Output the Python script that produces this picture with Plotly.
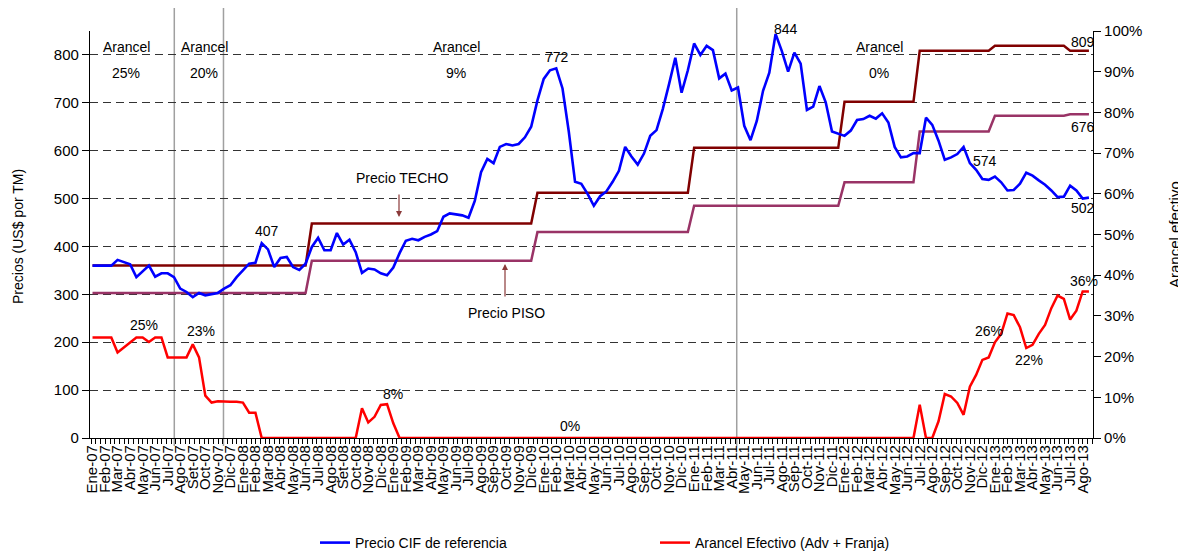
import plotly.graph_objects as go

# ---------------- data (half-month periods, Ene-07 .. Ago-13) ----------------
precio_cif = [
    360, 360, 360, 360, 372, 368, 363, 336, 349, 360,
    337, 344, 344, 336, 312, 305, 294, 303, 298, 301,
    303, 312, 319, 336, 349, 364, 366, 407, 394, 357,
    376, 378, 357, 351, 364, 399, 418, 392, 392, 428,
    404, 414, 388, 345, 354, 352, 344, 340, 356, 386,
    412, 416, 413, 420, 425, 432, 462, 469, 467, 465,
    460, 495, 555, 583, 574, 608, 614, 611, 614, 628,
    650, 705, 750, 768, 772, 730, 640, 535, 531, 510,
    485, 505, 515, 535, 558, 608, 588, 571, 594, 631,
    643, 687, 739, 794, 721, 768, 824, 800, 819, 810,
    751, 761, 726, 732, 652, 622, 662, 725, 763, 844,
    808, 765, 805, 782, 685, 692, 735, 701, 640, 636,
    631, 642, 664, 666, 673, 667, 678, 659, 608, 586,
    588, 595, 595, 669, 654, 621, 581, 586, 593, 608,
    574, 560, 541, 539, 546, 534, 517, 518, 531, 554,
    548, 538, 529, 517, 503, 504, 527, 517, 500, 502,
]

arancel_efectivo = [
    24.7, 24.7, 24.7, 24.7, 21.0, 22.2, 23.5, 24.7, 24.7, 23.6,
    24.7, 24.7, 19.8, 19.8, 19.8, 19.8, 23.0, 19.8, 10.4, 8.7,
    9.0, 8.9, 8.9, 8.9, 8.7, 6.2, 6.2, 0, 0, 0,
    0, 0, 0, 0, 0, 0, 0, 0, 0, 0,
    0, 0, 0, 7.3, 3.8, 5.2, 8.1, 8.3, 3.6, 0,
    0, 0, 0, 0, 0, 0, 0, 0, 0, 0,
    0, 0, 0, 0, 0, 0, 0, 0, 0, 0,
    0, 0, 0, 0, 0, 0, 0, 0, 0, 0,
    0, 0, 0, 0, 0, 0, 0, 0, 0, 0,
    0, 0, 0, 0, 0, 0, 0, 0, 0, 0,
    0, 0, 0, 0, 0, 0, 0, 0, 0, 0,
    0, 0, 0, 0, 0, 0, 0, 0, 0, 0,
    0, 0, 0, 0, 0, 0, 0, 0, 0, 0,
    0, 0, 8.2, 0, 0, 4.1, 10.8, 10.2, 8.6, 5.7,
    12.6, 15.5, 19.2, 19.8, 23.5, 25.6, 30.6, 30.2, 27.2, 22.1,
    22.9, 25.6, 27.8, 31.9, 35.0, 34.2, 29.1, 31.3, 36.0, 36.0,
]

banda_periodo = [0, 34, 35, 70, 71, 95, 96, 119, 120, 131, 132, 143, 144, 155, 156, 159]
precio_techo = [360, 360, 448, 448, 512, 512, 606, 606, 702, 702, 809, 809, 819, 819, 809, 809]
precio_piso = [303, 303, 370, 370, 430, 430, 485, 485, 534, 534, 640, 640, 673, 673, 676, 676]

meses = ["Ene", "Feb", "Mar", "Abr", "May", "Jun", "Jul", "Ago", "Sep", "Oct", "Nov", "Dic"]
anios = ["07", "08", "09", "10", "11", "12", "13"]
etiquetas = []
for a in anios:
    for m in meses:
        nombre = "Set" if (m == "Sep" and a in ("07", "08")) else m
        etiquetas.append(f"{nombre}-{a}")
etiquetas = etiquetas[:80]

ticks_izq = [0, 100, 200, 300, 400, 500, 600, 700, 800]
ticks_der = list(range(0, 101, 10))

periodos = list(range(len(precio_cif)))

# ---------------- layout helpers ----------------
# The page body has an 8px margin, so the figure is drawn at (8, 8) in the window.
OFF = 8
W, H = 1186 - OFF, 553 - OFF
AX_L, AX_R, AX_T, AX_B = 90, 1093, 31, 438          # plot area in window pixels
L, R, T, B = AX_L - OFF, W - (AX_R - OFF), AX_T - OFF, H - (AX_B - OFF)
PW, PH = AX_R - AX_L, AX_B - AX_T


def px(x):
    return (x - AX_L) / PW


def py(y):
    return (AX_B - y) / PH


FONT = "Liberation Sans, Arial, sans-serif"

fig = go.Figure()

fig.add_trace(go.Scatter(x=banda_periodo, y=precio_piso, mode="lines",
                         line=dict(color="#993366", width=2.5), showlegend=False,
                         hoverinfo="skip"))
fig.add_trace(go.Scatter(x=banda_periodo, y=precio_techo, mode="lines",
                         line=dict(color="#800000", width=2.5), showlegend=False,
                         hoverinfo="skip"))
fig.add_trace(go.Scatter(x=periodos, y=precio_cif, mode="lines",
                         name="Precio CIF de referencia",
                         line=dict(color="#0000FF", width=2.6)))
fig.add_trace(go.Scatter(x=periodos, y=arancel_efectivo, mode="lines",
                         name="Arancel Efectivo (Adv + Franja)", yaxis="y2",
                         line=dict(color="#FF0000", width=2.5)))

# vertical separators
for xv in [13.05, 20.9, 102.8]:
    fig.add_shape(type="line", xref="x", yref="paper", x0=xv, x1=xv,
                  y0=py(446), y1=py(7), line=dict(color="#A0A0A0", width=1.5),
                  layer="below")

ann = []


def text(x, y, s, size=14, color="black"):
    ann.append(dict(x=px(x), y=py(y), xref="paper", yref="paper", text=s,
                    showarrow=False, xanchor="center", yanchor="middle",
                    font=dict(size=size, color=color, family=FONT)))


for xc, pct in [(126, "25%"), (204, "20%"), (456, "9%"), (879, "0%")]:
    text(xc, 47, "Arancel")
    text(xc, 73, pct)

text(267, 231, "407")
text(557, 57, "772")
text(786, 29, "844")
text(1083, 42, "809")
text(1083, 127, "676")
text(985, 161, "574")
text(1083, 208, "502")
text(144, 325, "25%")
text(201, 331, "23%")
text(393, 394, "8%")
text(570, 426, "0%")
text(989, 331, "26%")
text(1029, 360, "22%")
text(1084, 281, "36%")
text(402, 178, "Precio TECHO")
text(506, 313, "Precio PISO")

# arrows (tail offsets in pixels)
ann.append(dict(x=px(399), y=py(217), xref="paper", yref="paper",
                ax=0, ay=-24, axref="pixel", ayref="pixel", text="", showarrow=True,
                arrowhead=2, arrowsize=1, arrowwidth=1.2, arrowcolor="#8B3A3A"))
ann.append(dict(x=px(505), y=py(264), xref="paper", yref="paper",
                ax=0, ay=34, axref="pixel", ayref="pixel", text="", showarrow=True,
                arrowhead=2, arrowsize=1, arrowwidth=1.2, arrowcolor="#8B3A3A"))

# axis titles
ann.append(dict(x=px(18), y=py(237), xref="paper", yref="paper", text="Precios (US$ por TM)",
                showarrow=False, textangle=-90, xanchor="center", yanchor="middle",
                font=dict(size=14, color="black", family=FONT)))
ann.append(dict(x=px(1175), y=py(235), xref="paper", yref="paper", text="Arancel efectivo",
                showarrow=False, textangle=-90, xanchor="center", yanchor="middle",
                font=dict(size=15, color="black", family=FONT)))

fig.update_layout(
    width=W, height=H,
    margin=dict(l=L, r=R, t=T, b=B, pad=0, autoexpand=False),
    paper_bgcolor="white", plot_bgcolor="white",
    font=dict(family=FONT, size=14, color="black"),
    annotations=ann,
    showlegend=True,
    legend=dict(orientation="h", x=px(315), y=py(543), xanchor="left", yanchor="middle",
                entrywidth=295, entrywidthmode="pixels", font=dict(size=14),
                bgcolor="rgba(0,0,0,0)"),
    xaxis=dict(range=[-0.4, 159.65], tickmode="array",
               tickvals=list(range(0, 160, 2)), ticktext=etiquetas,
               tickangle=-90, tickfont=dict(size=15, family=FONT), ticks="",
               showline=True, linecolor="black", linewidth=1.2,
               showgrid=False, zeroline=False,
               minor=dict(ticks="outside", ticklen=5, tickcolor="black",
                          dtick=0.75, tick0=-0.2, showgrid=False)),
    yaxis=dict(range=[0, 850], tickmode="array", tickvals=ticks_izq,
               ticks="outside", ticklen=7, tickcolor="black",
               tickfont=dict(size=15, family=FONT),
               showline=True, linecolor="black", linewidth=1.2,
               showgrid=True, gridcolor="#333333", griddash="8px,5px", gridwidth=1,
               zeroline=False),
    yaxis2=dict(range=[0, 100], overlaying="y", side="right", tickmode="array",
                tickvals=ticks_der, ticktext=[f"{v}%" for v in ticks_der],
                ticks="outside", ticklen=7, tickcolor="black",
                tickfont=dict(size=15, family=FONT),
                showline=True, linecolor="black", linewidth=1.2,
                showgrid=False, zeroline=False),
)

fig.write_html("out.html")
